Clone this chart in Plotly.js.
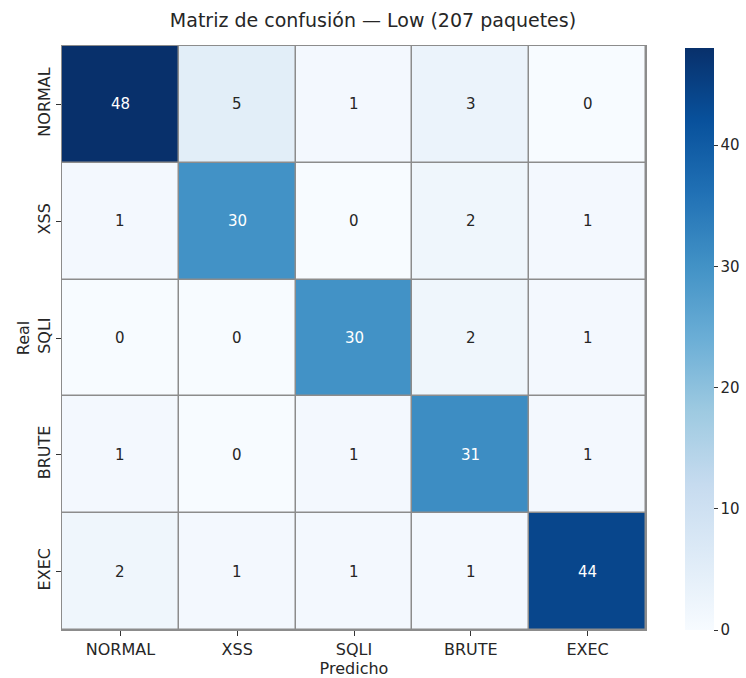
<!DOCTYPE html>
<html><head><meta charset="utf-8">
<script src="https://cdn.plot.ly/plotly-3.0.1.min.js"></script>
<style>body{margin:0;background:#fff}</style>
</head><body><div id="chart" style="width:746px;height:678px"></div>
<script>
const categories = ["NORMAL", "XSS", "SQLI", "BRUTE", "EXEC"];
const predLabels = ["NORMAL", "XSS", "SQLI", "BRUTE", "EXEC"];
const realLabels = ["NORMAL", "XSS", "SQLI", "BRUTE", "EXEC"];
const rowNORMAL = [48, 5, 1, 3, 0];
const rowXSS    = [1, 30, 0, 2, 1];
const rowSQLI   = [0, 0, 30, 2, 1];
const rowBRUTE  = [1, 0, 1, 31, 1];
const rowEXEC   = [2, 1, 1, 1, 44];
const matrix = [rowNORMAL, rowXSS, rowSQLI, rowBRUTE, rowEXEC];
const colorTicks = [0, 10, 20, 30, 40];

const blues = [
  [0.0, "#f7fbff"], [0.125, "#deebf7"], [0.25, "#c6dbef"], [0.375, "#9ecae1"],
  [0.5, "#6baed6"], [0.625, "#4292c6"], [0.75, "#2171b5"], [0.875, "#08519c"], [1.0, "#08306b"]
];
const zmax = Math.max(...matrix.flat());
const FONT = "DejaVu Sans, sans-serif";

const annotations = [];
matrix.forEach((row, i) => row.forEach((v, j) => {
  annotations.push({
    x: predLabels[j], y: realLabels[i], xref: "x", yref: "y",
    text: String(v), showarrow: false,
    font: {family: FONT, size: 15, color: v / zmax > 0.5 ? "#ffffff" : "#262626"}
  });
}));

const trace = {
  type: "heatmap",
  x: predLabels, y: realLabels, z: matrix,
  colorscale: blues, zmin: 0, zmax: zmax,
  xgap: 1.5, ygap: 1.5,
  hoverinfo: "skip",
  colorbar: {
    x: 1.049, xanchor: "left", xref: "paper", xpad: 10,
    y: 0, yanchor: "bottom", ypad: 0, len: 0.997, lenmode: "fraction",
    thickness: 29, outlinewidth: 0,
    tickvals: colorTicks, ticks: "outside", ticklen: 4, tickcolor: "#333",
    tickfont: {family: FONT, size: 15, color: "#262626"}
  }
};

const layout = {
  width: 746, height: 678,
  margin: {l: 62, r: 100, t: 46, b: 48, autoexpand: false},
  paper_bgcolor: "#ffffff", plot_bgcolor: "#8c8c8c",
  title: {text: "Matriz de confusión — Low (207 paquetes)", x: 0.5, xanchor: "center", y: 0.97, yanchor: "middle",
          font: {family: FONT, size: 19, color: "#262626"}},
  xaxis: {
    type: "category", categoryorder: "array", categoryarray: categories,
    ticks: "outside", ticklen: 5, tickcolor: "#333", showgrid: false, zeroline: false,
    showline: true, mirror: true, linecolor: "#8c8c8c", linewidth: 1,
    tickfont: {family: FONT, size: 16, color: "#262626"},
    title: {text: "Predicho", standoff: 4, font: {family: FONT, size: 16, color: "#262626"}}
  },
  yaxis: {
    type: "category", categoryorder: "array", categoryarray: categories, autorange: "reversed",
    ticks: "outside", ticklen: 5, tickcolor: "#333", showgrid: false, zeroline: false,
    showline: true, mirror: true, linecolor: "#8c8c8c", linewidth: 1,
    tickangle: -90,
    tickfont: {family: FONT, size: 16, color: "#262626"},
    title: {text: "Real", standoff: 0, font: {family: FONT, size: 16, color: "#262626"}}
  },
  annotations: annotations
};

Plotly.newPlot("chart", [trace], layout, {displayModeBar: false, staticPlot: true});
</script>
</body></html>
